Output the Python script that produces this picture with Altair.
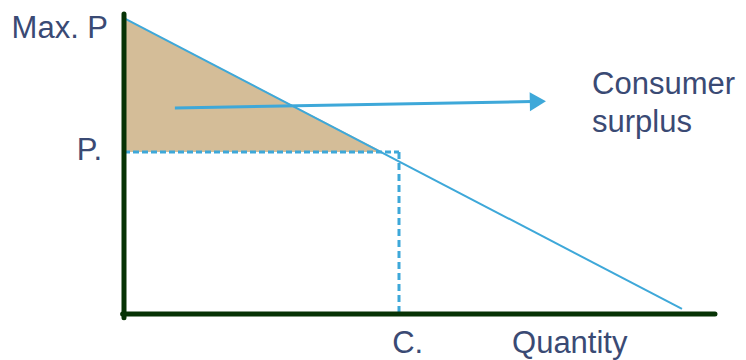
import altair as alt
import pandas as pd

# ---- values (quantity units, price units) ----
max_price = 9.93          # "Max. P"
market_price = 5.44       # "P."
consumed_q = 10.0         # "C."

# demand curve end points
demand_q = [0.0, 20.29]
demand_p = [9.93, 0.17]

# consumer surplus triangle
surplus_q = [0.0, 9.42]
surplus_top = [9.93, 5.44]

# arrow pointing to the label
arrow_q = [1.85, 14.84]
arrow_p = [6.91, 7.13]
arrow_head_q = [15.05]
arrow_head_p = [7.13]

# axes lines
yaxis_q = [0.0, 0.0]
yaxis_p = [-0.13, 10.07]
xaxis_q = [-0.05, 21.49]
xaxis_p = [0.0, 0.0]

# labels
label_text = ["Max. P", "P.", "C.", "Quantity", "Consumer", "surplus"]
label_q = [-0.58, -0.80, 9.75, 14.11, 17.02, 17.02]
label_p = [9.26, 5.17, -1.31, -1.31, 7.38, 6.11]
label_align = ["right", "right", "left", "left", "left", "left"]

BLUE = "#3ea8d9"
GREEN = "#073305"
TAN = "#d4bd98"
NAVY = "#3a4a74"

xs = alt.Scale(domain=[-4.218, 22.327], nice=False, zero=False)
ys = alt.Scale(domain=[-1.544, 10.268], nice=False, zero=False)


def seg(q, p):
    return pd.DataFrame({"x": [q[0]], "y": [p[0]], "x2": [q[1]], "y2": [p[1]]})


def rule(df, color, width, dash=None, cap="butt"):
    kw = dict(color=color, strokeWidth=width, strokeCap=cap)
    if dash:
        kw["strokeDash"] = dash
    return alt.Chart(df).mark_rule(**kw).encode(
        x=alt.X("x:Q", scale=xs, axis=None),
        y=alt.Y("y:Q", scale=ys, axis=None),
        x2="x2:Q",
        y2="y2:Q",
    )


surplus_df = pd.DataFrame({"q": surplus_q, "top": surplus_top, "bottom": [market_price, market_price]})
surplus = alt.Chart(surplus_df).mark_area(color=TAN, opacity=1).encode(
    x=alt.X("q:Q", scale=xs, axis=None),
    y=alt.Y("top:Q", scale=ys, axis=None),
    y2="bottom:Q",
)

dash_h = rule(seg([0.0, consumed_q], [market_price, market_price]), BLUE, 3, [6, 3])
dash_v = rule(seg([consumed_q, consumed_q], [market_price, 0.0]), BLUE, 3, [7, 4])
demand = rule(seg(demand_q, demand_p), BLUE, 2)
arrow = rule(seg(arrow_q, arrow_p), BLUE, 3)
head = alt.Chart(pd.DataFrame({"q": arrow_head_q, "p": arrow_head_p})).mark_point(
    shape="M-0.85,-1L0.85,0L-0.85,1Z", filled=True, color=BLUE, opacity=1, size=361, angle=359
).encode(
    x=alt.X("q:Q", scale=xs, axis=None),
    y=alt.Y("p:Q", scale=ys, axis=None),
)
yaxis = rule(seg(yaxis_q, yaxis_p), GREEN, 5, cap="round")
xaxis = rule(seg(xaxis_q, xaxis_p), GREEN, 5, cap="round")

labels_df = pd.DataFrame({"t": label_text, "q": label_q, "p": label_p, "a": label_align})
lab_r = alt.Chart(labels_df[labels_df.a == "right"]).mark_text(
    align="right", baseline="alphabetic", font="Liberation Sans", fontSize=31, color=NAVY
).encode(x=alt.X("q:Q", scale=xs, axis=None), y=alt.Y("p:Q", scale=ys, axis=None), text="t:N")
lab_l = alt.Chart(labels_df[labels_df.a == "left"]).mark_text(
    align="left", baseline="alphabetic", font="Liberation Sans", fontSize=31, color=NAVY
).encode(x=alt.X("q:Q", scale=xs, axis=None), y=alt.Y("p:Q", scale=ys, axis=None), text="t:N")

chart = alt.layer(
    surplus, dash_h, dash_v, demand, arrow, head, yaxis, xaxis, lab_r, lab_l
).properties(
    width=730, height=352, padding=0, autosize="none", background="white"
).configure_view(strokeWidth=0)

chart.save("out.html", embed_options={"renderer": "svg", "actions": False})
